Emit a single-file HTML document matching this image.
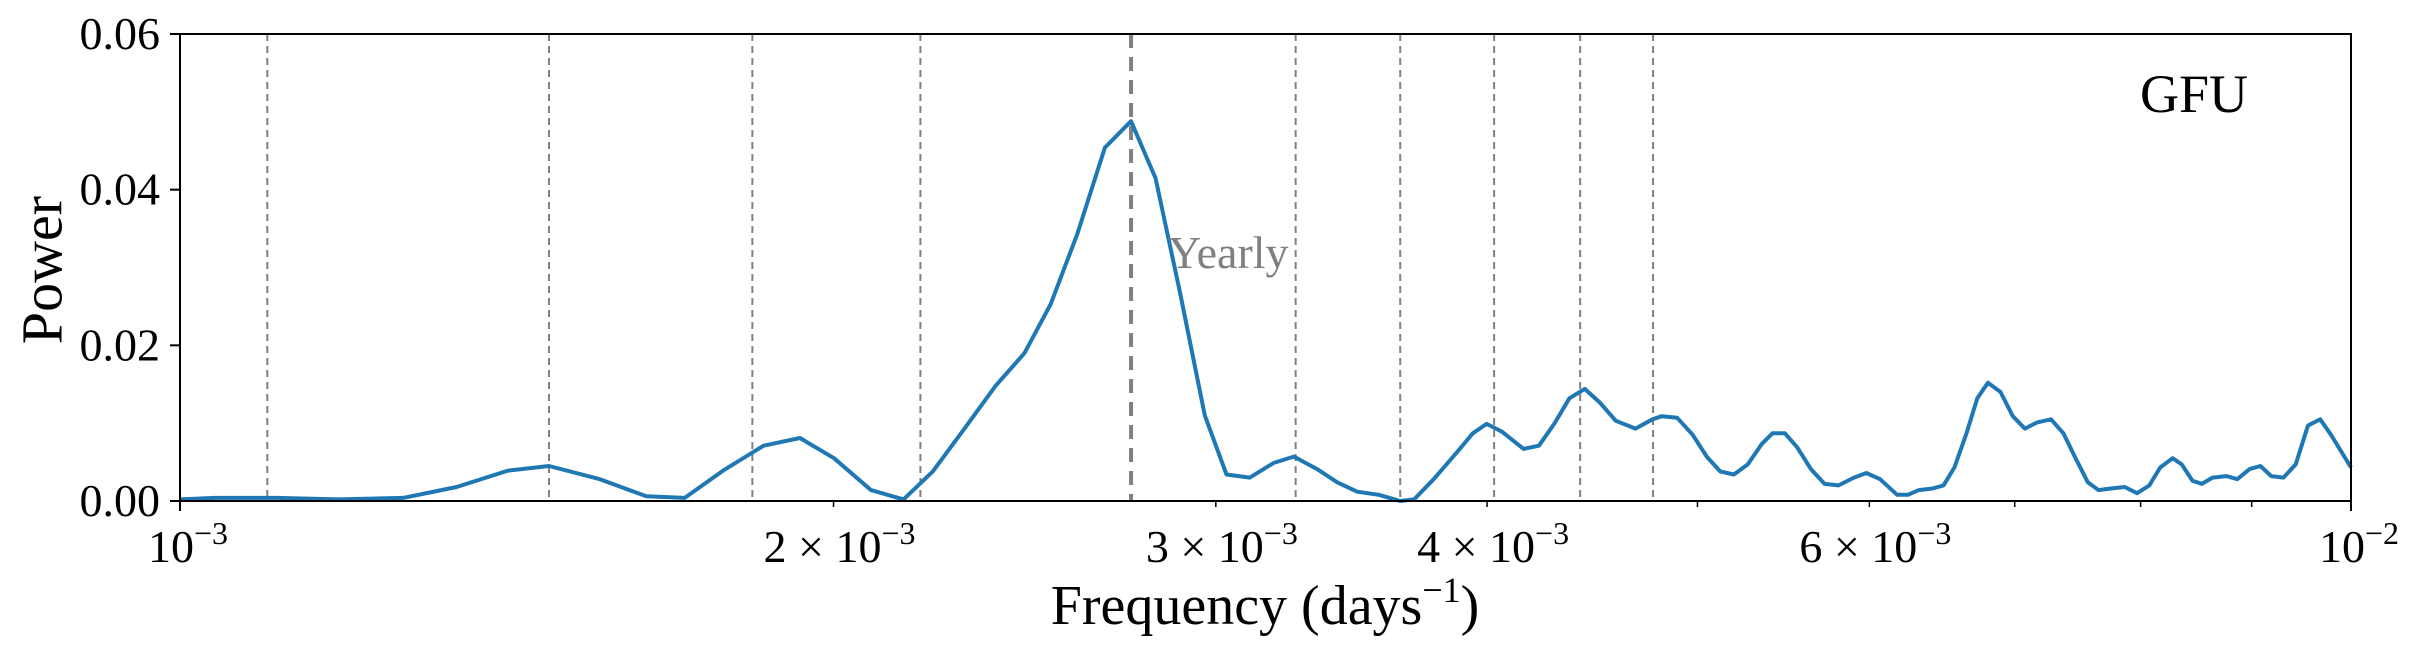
<!DOCTYPE html>
<html><head><meta charset="utf-8"><style>
html,body{margin:0;padding:0;background:#fff;}
svg{display:block;font-family:"Liberation Serif",serif;}
</style></head><body>
<svg id="chart" width="2412" height="656" viewBox="0 0 2412 656" xmlns="http://www.w3.org/2000/svg"></svg>
<script>
const freqs = [
1.000,1.038,1.108,1.183,1.267,1.341,1.416,1.479,1.561,1.640,
1.708,1.779,1.857,1.930,2.001,2.081,2.154,2.222,2.298,2.375,
2.449,2.518,2.590,2.667,2.742,2.814,2.888,2.965,3.034,3.110,
3.190,3.259,3.340,3.412,3.485,3.566,3.648,3.702,3.780,3.870,
3.940,3.998,4.064,4.158,4.226,4.295,4.365,4.437,4.510,4.585,
4.682,4.767,4.814,4.893,4.975,5.049,5.122,5.197,5.274,5.352,
5.414,5.486,5.558,5.639,5.722,5.807,5.903,5.981,6.069,6.179,
6.250,6.323,6.416,6.491,6.566,6.651,6.728,6.804,6.895,6.986,
7.076,7.169,7.275,7.371,7.467,7.564,7.651,7.751,7.866,7.970,
8.074,8.168,8.276,8.356,8.453,8.537,8.634,8.763,8.864,8.980,
9.084,9.188,9.309,9.430,9.554,9.679,9.790,10.00];
const power = [
.0002,.0004,.0004,.0002,.0004,.0018,.0039,.0045,.0028,.0006,
.0004,.0039,.0071,.0081,.0055,.0014,.0002,.0038,.0093,.0148,
.0190,.0253,.0343,.0454,.0488,.0415,.0268,.0110,.0034,.0030,
.0049,.0057,.0041,.0024,.0012,.0008,.0000,.0002,.0028,.0061,
.0087,.0099,.0089,.0067,.0071,.0099,.0132,.0144,.0126,.0103,
.0093,.0105,.0109,.0107,.0085,.0057,.0038,.0034,.0047,.0073,
.0087,.0087,.0069,.0041,.0022,.0020,.0030,.0036,.0028,.0008,
.0008,.0014,.0016,.0020,.0043,.0087,.0132,.0152,.0140,.0109,
.0093,.0101,.0105,.0087,.0055,.0024,.0014,.0016,.0018,.0010,
.0020,.0043,.0055,.0047,.0026,.0022,.0030,.0032,.0028,.0041,
.0045,.0032,.0030,.0047,.0097,.0105,.0085,.0043];
const periodLines = [1.097,1.479,1.835,2.193,3.265,3.648,4.03,4.415,4.77];
const yearlyFreq = 2.742;
const yTicks = [0,0.02,0.04,0.06];
const yTickLabels = ["0.00","0.02","0.04","0.06"];
const xLabeledMinor = [2,3,4,6];
const xUnlabeledMinor = [5,7,8,9];

const L=180,R=2351,T=34,B=501;
const X = f => L + (Math.log10(f*1e-3)+3)*(R-L);
const Y = p => B - p/0.06*(B-T);
const svg=document.getElementById('chart');
const NS='http://www.w3.org/2000/svg';
function mk(tag,attrs,parent){const e=document.createElementNS(NS,tag);for(const k in attrs)e.setAttribute(k,attrs[k]);(parent||svg).appendChild(e);return e;}

periodLines.forEach(f=>{
  const l=mk('line',{x1:X(f),x2:X(f),y1:T,y2:B,stroke:'#808080','stroke-width':2,'stroke-dasharray':'7,5'});
  
  
});
const yl=mk('line',{x1:X(yearlyFreq),x2:X(yearlyFreq),y1:T,y2:B,stroke:'#808080','stroke-width':4,'stroke-dasharray':'14,9'});



let d='';
freqs.forEach((f,i)=>{d+=(i?'L':'M')+X(f).toFixed(1)+','+Y(power[i]).toFixed(1);});
const path=mk('path',{d:d,fill:'none',stroke:'#1f77b4','stroke-width':4,'stroke-linejoin':'round'});



const fr=mk('rect',{x:L,y:T,width:R-L,height:B-T,fill:'none',stroke:'#000','stroke-width':2});



yTicks.forEach((v,i)=>{
  mk('line',{x1:L-10,x2:L,y1:Y(v),y2:Y(v),stroke:'#000','stroke-width':2});
  const t=mk('text',{x:160,y:Y(v)+15,'text-anchor':'end','font-size':46});
  t.textContent=yTickLabels[i];
  
  
});
function sciLabel(x,html){const t=mk('text',{x:x,y:562,'text-anchor':'middle','font-size':46});t.innerHTML=html;}
[[1,'10<tspan dy="-18" font-size="32">−3</tspan>'],[10,'10<tspan dy="-18" font-size="32">−2</tspan>']].forEach(([f,h])=>{
  mk('line',{x1:X(f),x2:X(f),y1:B,y2:B+10,stroke:'#000','stroke-width':2});
  sciLabel(X(f)+8,h);
});
xLabeledMinor.forEach(f=>{
  mk('line',{x1:X(f),x2:X(f),y1:B,y2:B+6,stroke:'#000','stroke-width':1.5});
  sciLabel(X(f)+6,f+' × 10<tspan dy="-18" font-size="32">−3</tspan>');
});
xUnlabeledMinor.forEach(f=>{mk('line',{x1:X(f),x2:X(f),y1:B,y2:B+6,stroke:'#000','stroke-width':1.5});});
</script>
<svg style="position:absolute;left:0;top:0" width="2412" height="656">
<text x="48" y="270" transform="rotate(-90 48 270)" text-anchor="middle" font-size="58" font-family="Liberation Serif,serif" dominant-baseline="middle">Power</text>
<text x="1265" y="624" text-anchor="middle" font-size="56" font-family="Liberation Serif,serif">Frequency (days<tspan dy="-22" font-size="36">−1</tspan><tspan dy="22">)</tspan></text>
<text x="2194" y="112" text-anchor="middle" font-size="54" font-family="Liberation Serif,serif">GFU</text>
<text x="1168" y="268" font-size="46" fill="#808080" font-family="Liberation Serif,serif">Yearly</text>
</svg>
</body></html>
